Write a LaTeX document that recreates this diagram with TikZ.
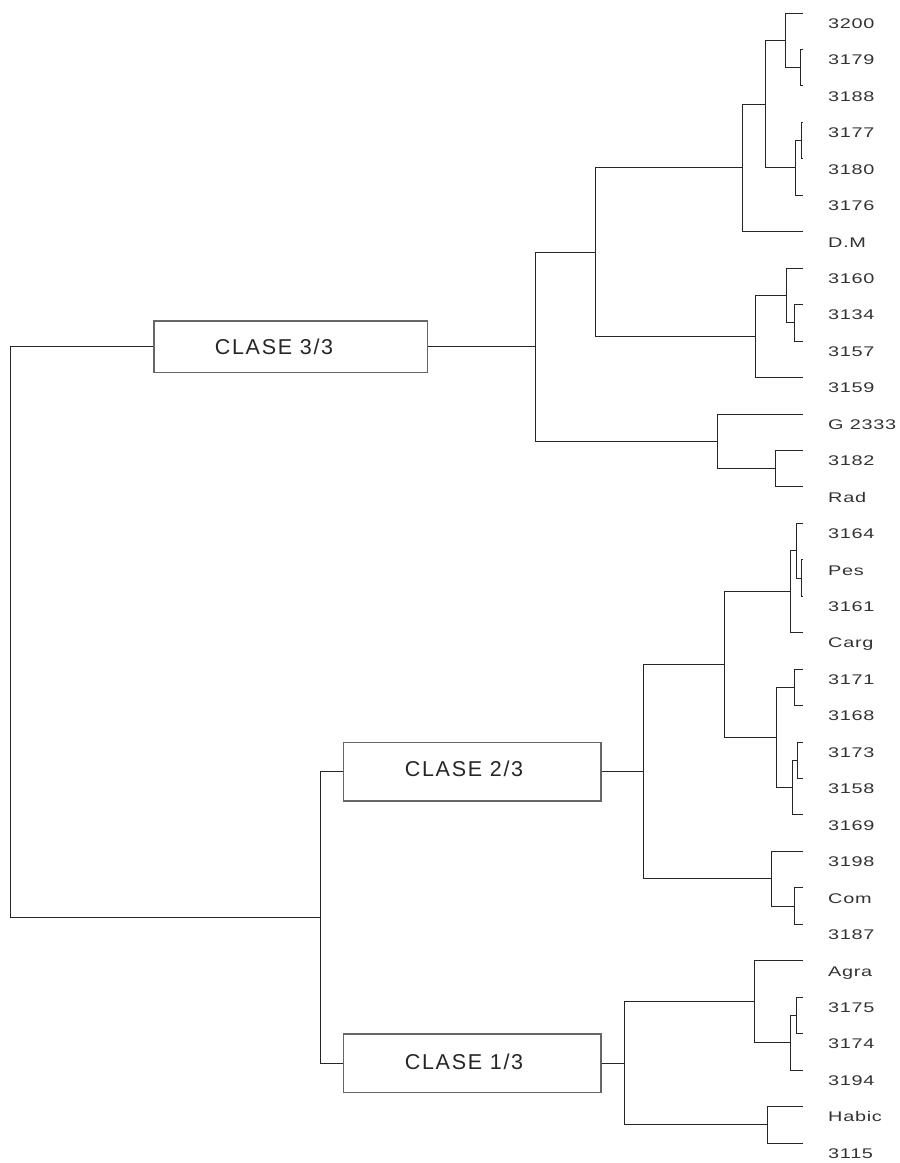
\documentclass[tikz,border=0pt]{standalone}
\usepackage{fontspec}
\setmainfont{Liberation Sans}
\newfontfamily\leaffont[FakeStretch=1.42,LetterSpace=5]{Liberation Sans}
\newfontfamily\boxfont[LetterSpace=8]{Liberation Sans}
\usetikzlibrary{calc}
\tikzset{
  tree/.style={draw=black!85, line width=0.9pt},
  leaflabel/.style={anchor=base west, inner sep=0pt, font=\leaffont\fontsize{14}{14}\selectfont, text=black!80},
  classbox/.style={draw=black!60, line width=1.6pt, fill=white, inner sep=0pt},
  classtext/.style={font=\boxfont\fontsize{21.5}{22}\selectfont, inner sep=0pt, text=black!85},
}
% #1 name, #2 x of the join, #3 and #4 the two children
\newcommand\elbow[4]{%
  \coordinate (#1m) at ($(#3)!.5!(#4)$);
  \coordinate (#1) at (#2,0 |- #1m);
  \draw[tree] (#3) -- (#3 -| #1) -- (#4 -| #1) -- (#4);
}
\begin{document}
\begin{tikzpicture}[x=1pt,y=-1pt]
\useasboundingbox (0,0) rectangle (900,1163);
\foreach \lab [count=\i from 0] in {3200,3179,3188,3177,3180,3176,D.M,3160,3134,3157,3159,G 2333,3182,Rad,3164,Pes,3161,Carg,3171,3168,3173,3158,3169,3198,Com,3187,Agra,3175,3174,3194,Habic,3115}{
  \coordinate (l\i) at (803, 13+36.45*\i);
  \node[leaflabel] (t\i) at (828, 28.3+36.45*\i) {\lab};
}
% class 3/3
\elbow{n1}{800}{l1}{l2}
\elbow{n2}{785}{l0}{n1}
\elbow{n3}{801}{l3}{l4}
\elbow{n4}{795}{n3}{l5}
\elbow{n5}{765}{n2}{n4}
\elbow{n6}{742}{n5}{l6}
\elbow{n7}{794}{l8}{l9}
\elbow{n8}{786}{l7}{n7}
\elbow{n9}{755}{n8}{l10}
\elbow{n10}{595.7}{n6}{n9}
\elbow{n11}{775}{l12}{l13}
\elbow{n12}{717.3}{l11}{n11}
\elbow{n13}{535.7}{n10}{n12}
% class 2/3
\elbow{n14}{801}{l15}{l16}
\elbow{n15}{796.7}{l14}{n14}
\elbow{n16}{790}{n15}{l17}
\elbow{n17}{794}{l18}{l19}
\elbow{n18}{797.3}{l20}{l21}
\elbow{n19}{792.7}{n18}{l22}
\elbow{n20}{776}{n17}{n19}
\elbow{n21}{724}{n16}{n20}
\elbow{n22}{794.3}{l24}{l25}
\elbow{n23}{771}{l23}{n22}
\elbow{n24}{643.3}{n21}{n23}
% class 1/3
\elbow{n25}{796.7}{l27}{l28}
\elbow{n26}{790.7}{n25}{l29}
\elbow{n27}{754.3}{l26}{n26}
\elbow{n28}{767.7}{l30}{l31}
\elbow{n29}{624.3}{n27}{n28}
% class boxes
\node[classbox, minimum width=273.3pt, minimum height=51.7pt] (c3) at (290.7,0 |- n13) {};
\node[classbox, minimum width=257.4pt, minimum height=58.6pt] (c2) at (472,0 |- n24) {};
\node[classbox, minimum width=257.4pt, minimum height=58.3pt] (c1) at (472,0 |- n29) {};
\node[classtext] (c3t) at ([xshift=-16.7pt]c3.center) {CLASE 3/3};
\node[classtext] (c2t) at ([xshift=-8pt,yshift=3pt]c2.center) {CLASE 2/3};
\node[classtext] (c1t) at ([xshift=-8pt,yshift=1.5pt]c1.center) {CLASE 1/3};
\draw[tree] (n13) -- (c3.east);
\draw[tree] (n24) -- (c2.east);
\draw[tree] (n29) -- (c1.east);
\elbow{n30}{320.7}{c2.west}{c1.west}
\elbow{root}{10}{c3.west}{n30}
\end{tikzpicture}
\end{document}
